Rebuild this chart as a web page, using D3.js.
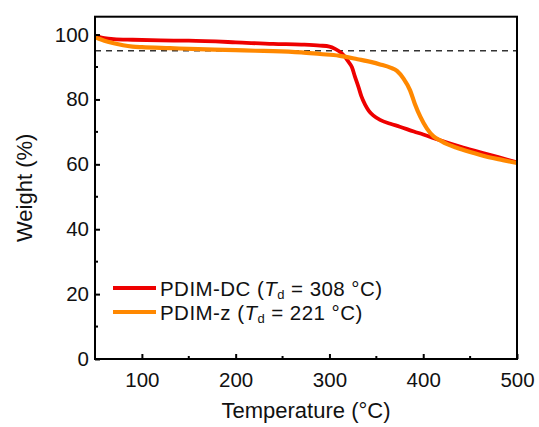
<!DOCTYPE html>
<html>
<head>
<meta charset="utf-8">
<script src="https://cdn.jsdelivr.net/npm/d3@7"></script>
<style>
  html, body { margin: 0; padding: 0; background: #fff; }
  svg text { font-family: "Liberation Sans", Arial, sans-serif; fill: #111; }
</style>
</head>
<body>
<svg id="chart" width="539" height="427"></svg>
<script>
// ---------- data ----------
const dcTemp   = [50, 55, 60, 70, 90, 120, 150, 200, 240, 270, 290, 300, 306, 312, 317, 321, 324, 327, 331, 334, 338, 342, 347, 354, 365, 375, 390, 400, 418, 440, 460, 480, 500];
const dcWeight = [99.7, 99.2, 98.9, 98.6, 98.4, 98.2, 98.1, 97.6, 97.1, 96.9, 96.6, 96.3, 95.6, 94.5, 93.0, 91.3, 89.9, 87.2, 83.8, 81.0, 78.4, 76.5, 75.0, 73.7, 72.5, 71.6, 70.1, 69.2, 67.4, 65.4, 63.8, 62.2, 60.6];

const zTemp   = [50, 55, 60, 70, 80, 90, 100, 130, 160, 200, 221, 240, 270, 290, 310, 330, 345, 354, 365, 372, 379, 386, 391, 397, 404, 411, 418, 425, 435, 450, 470, 485, 500];
const zWeight = [99.2, 98.6, 98.1, 97.3, 96.7, 96.3, 96.1, 95.8, 95.5, 95.2, 95.0, 94.9, 94.5, 94.0, 93.5, 92.4, 91.5, 90.8, 89.8, 88.8, 86.4, 82.8, 78.7, 74.6, 71.0, 68.6, 67.4, 66.3, 65.2, 63.8, 62.2, 61.3, 60.4];

const seriesNames = ["PDIM-DC", "PDIM-z"];
const tdValues = [308, 221];
const thresholdWeight = 95;

const xTicks = [100, 200, 300, 400, 500];
const xMinor = [150, 250, 350, 450];
const yTicks = [0, 20, 40, 60, 80, 100];
const yMinor = [10, 30, 50, 70, 90];

// ---------- layout ----------
const svg = d3.select("#chart");
const L = 95, R = 517, T = 16.7, B = 359;
const x = d3.scaleLinear().domain([50, 500]).range([L, R]);
const y = d3.scaleLinear().domain([0, 105.5]).range([B, T]);
const colors = ["#ee0000", "#ff8800"];

// threshold dashed line
svg.append("line")
  .attr("x1", x(50)).attr("x2", x(500))
  .attr("y1", y(thresholdWeight)).attr("y2", y(thresholdWeight))
  .attr("stroke", "#333").attr("stroke-width", 1.5)
  .attr("stroke-dasharray", "6,5");

const line = d3.line().x(d => x(d[0])).y(d => y(d[1])).curve(d3.curveMonotoneX);
const dcData = dcTemp.map((t, i) => [t, dcWeight[i]]);
const zData = zTemp.map((t, i) => [t, zWeight[i]]);

svg.append("path").datum(dcData).attr("d", line)
  .attr("fill", "none").attr("stroke", colors[0]).attr("stroke-width", 3.8)
  .attr("stroke-linejoin", "round");
svg.append("path").datum(zData).attr("d", line)
  .attr("fill", "none").attr("stroke", colors[1]).attr("stroke-width", 4.2)
  .attr("stroke-linejoin", "round");

// frame
svg.append("rect").attr("x", L).attr("y", T).attr("width", R - L).attr("height", B - T)
  .attr("fill", "none").attr("stroke", "#000").attr("stroke-width", 2);

// axes (ticks inward)
const xAxis = d3.axisBottom(x).tickValues(xTicks).tickSize(-5).tickPadding(13).tickFormat(d3.format("d"));
const gx = svg.append("g").attr("transform", `translate(0,${B})`).call(xAxis);
gx.select(".domain").remove();
gx.selectAll(".tick line").attr("stroke", "#000").attr("stroke-width", 2);
gx.selectAll("text").attr("font-size", 20.5).attr("fill", "#111");
gx.selectAll(".minor").data(xMinor).enter().append("line")
  .attr("x1", d => x(d)).attr("x2", d => x(d)).attr("y1", 0).attr("y2", -3)
  .attr("stroke", "#000").attr("stroke-width", 2);

const yAxis = d3.axisLeft(y).tickValues(yTicks).tickSize(-5).tickPadding(6).tickFormat(d3.format("d"));
const gy = svg.append("g").attr("transform", `translate(${L},0)`).call(yAxis);
gy.select(".domain").remove();
gy.selectAll(".tick line").attr("stroke", "#000").attr("stroke-width", 2);
gy.selectAll("text").attr("font-size", 20.5).attr("fill", "#111");
gy.selectAll(".minor").data(yMinor).enter().append("line")
  .attr("y1", d => y(d)).attr("y2", d => y(d)).attr("x1", 0).attr("x2", 3)
  .attr("stroke", "#000").attr("stroke-width", 2);

// axis titles
svg.append("text").attr("x", (L + R) / 2).attr("y", 418).attr("text-anchor", "middle")
  .attr("font-size", 22).text("Temperature (°C)");
svg.append("text").attr("transform", `translate(32,${(T + B) / 2}) rotate(-90)`)
  .attr("text-anchor", "middle").attr("font-size", 22).text("Weight (%)");

// legend
const legY = [288, 312];
seriesNames.forEach((name, i) => {
  svg.append("line").attr("x1", 113).attr("x2", 156).attr("y1", legY[i]).attr("y2", legY[i])
    .attr("stroke", colors[i]).attr("stroke-width", 4);
  const t = svg.append("text").attr("x", 160).attr("y", legY[i] + 7.5)
    .attr("font-size", 20.5).attr("letter-spacing", 0.45);
  t.append("tspan").text(name + " (");
  t.append("tspan").attr("font-style", "italic").text("T");
  t.append("tspan").attr("font-size", 13).attr("dy", 3).text("d");
  t.append("tspan").attr("dy", -3).text(" = " + tdValues[i] + " °C)");
});
</script>
</body>
</html>
